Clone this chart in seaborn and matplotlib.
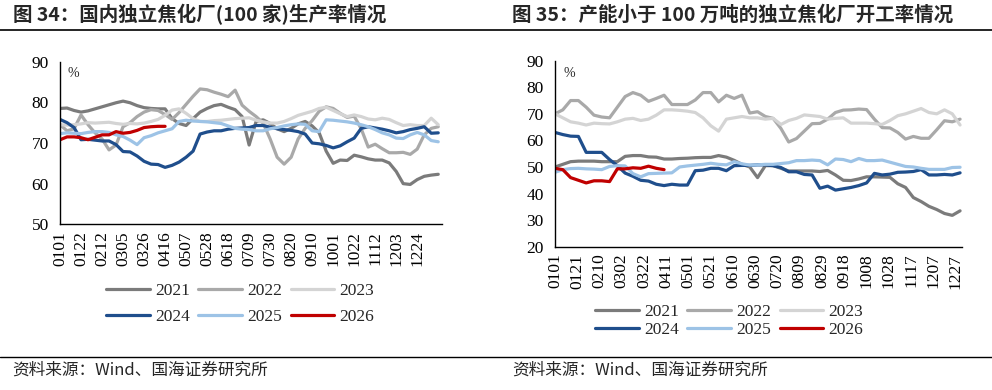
import matplotlib
matplotlib.use("Agg")

import numpy as np
import pandas as pd
import seaborn as sns
from matplotlib import pyplot as plt
from matplotlib.lines import Line2D

YEARS = ["2021", "2022", "2023", "2024", "2025", "2026"]
YEAR_COLORS = {
    "2021": "#7b7b7b",
    "2022": "#a9a9a9",
    "2023": "#d4d4d4",
    "2024": "#1f4e8c",
    "2025": "#9dc3e6",
    "2026": "#c00000",
}

# chart 34: weekly data, one point every 7 days
LEFT_TICK_LABELS = ["0101", "0122", "0212", "0305", "0326", "0416", "0507", "0528", "0618",
                    "0709", "0730", "0820", "0910", "1001", "1022", "1112", "1203", "1224", ""]
left_2021 = [78.5, 78.6, 78.0, 77.6, 77.9, 78.4, 78.9, 79.4, 79.9, 80.3,
             79.9, 79.2, 78.7, 78.5, 78.4, 78.4, 76.0, 74.8, 74.3, 76.0,
             77.6, 78.5, 79.2, 79.5, 78.8, 78.2, 76.5, 69.5, 75.3, 75.7,
             74.8, 73.5, 72.8, 73.6, 74.7, 75.3, 74.2, 72.5, 68.0, 65.0,
             65.8, 65.7, 67.0, 66.6, 66.1, 65.8, 65.8, 65.1, 63.0, 60.0,
             59.8, 61.0, 61.8, 62.1, 62.3]
left_2022 = [74.5, 73.0, 73.5, 76.9, 74.5, 72.5, 71.0, 68.3, 69.5, 74.0,
             75.0, 76.5, 77.6, 78.2, 78.0, 77.0, 75.8, 77.5, 79.5, 81.5,
             83.3, 83.1, 82.5, 82.0, 81.4, 83.0, 79.3, 77.8, 76.5, 74.9,
             71.0, 66.5, 64.8, 66.5, 71.0, 73.6, 75.5, 77.8, 78.9, 78.5,
             77.3, 76.3, 76.6, 73.5, 69.0, 69.7, 68.6, 67.6, 67.6, 67.7,
             67.2, 68.5, 72.0, 73.6, 74.0]
left_2023 = [74.5, 74.4, 74.5, 74.7, 75.0, 74.9, 75.0, 75.1, 74.8, 74.6,
             74.8, 74.7, 74.9, 75.3, 75.8, 76.8, 78.1, 78.4, 77.3, 76.0,
             75.3, 75.3, 75.5, 75.6, 75.8, 76.0, 76.1, 76.2, 75.6, 75.2,
             74.9, 74.9, 75.3, 76.0, 76.8, 77.3, 77.8, 78.5, 78.8, 78.0,
             77.2, 76.5, 76.9, 76.5, 75.9, 75.7, 76.1, 75.8, 75.0, 74.3,
             74.5, 74.3, 74.3, 76.1, 74.5]
left_2024 = [75.8, 75.0, 73.8, 70.8, 70.9, 70.7, 70.5, 70.5, 69.6, 67.9,
             67.8, 66.8, 65.5, 64.8, 64.7, 64.0, 64.5, 65.3, 66.5, 68.0,
             72.2, 72.7, 73.0, 73.0, 73.4, 73.6, 73.7, 73.8, 74.3, 74.3,
             73.9, 73.5, 73.3, 73.1, 72.8, 72.2, 70.0, 69.8, 69.4, 68.8,
             69.3, 70.3, 71.2, 73.6, 74.0, 73.7, 73.4, 73.0, 72.5, 72.8,
             73.3, 73.6, 74.0, 72.4, 72.5]
left_2025 = [72.3, 72.5, 72.4, 72.3, 72.6, 72.8, 72.8, 72.6, 72.0, 71.6,
             70.7, 69.6, 71.3, 71.8, 72.5, 73.0, 73.5, 75.3, 75.6, 75.4,
             75.3, 75.2, 75.0, 74.8, 74.2, 73.6, 73.4, 73.3, 73.0, 73.0,
             73.5, 73.8, 74.2, 74.5, 74.7, 74.6, 73.0, 72.8, 75.7, 75.6,
             75.4, 75.2, 74.9, 74.5, 74.0, 73.3, 72.5, 72.0, 71.2, 71.1,
             72.0, 72.6, 72.0, 70.6, 70.3]
left_2026 = [70.8, 71.5, 71.5, 71.3, 70.8, 71.4, 72.0, 72.0, 72.8, 72.4,
             72.6, 73.1, 73.8, 74.0, 74.1, 74.1]

# chart 35: weekly data on a 20-day date axis
RIGHT_TICK_LABELS = ["0101", "0121", "0210", "0302", "0322", "0411", "0501", "0521", "0610",
                     "0630", "0720", "0809", "0829", "0918", "1008", "1028", "1117", "1207", "1227"]
right_2021 = [50.0, 51.0, 52.0, 52.2, 52.2, 52.2, 52.0, 52.0, 52.0, 54.0,
              54.3, 54.3, 53.8, 53.7, 53.0, 53.0, 53.2, 53.3, 53.5, 53.6,
              53.6, 54.3, 53.7, 52.5, 51.0, 50.0, 46.0, 50.5, 50.5, 49.5,
              48.5, 48.5, 48.5, 48.5, 48.3, 48.7, 47.0, 45.0, 44.9, 45.5,
              46.3, 46.3, 46.2, 46.1, 43.7, 42.3, 38.5, 37.0, 35.2, 34.0,
              32.5, 31.8, 33.5]
right_2022 = [70.0, 71.5, 75.0, 75.0, 72.5, 69.5, 68.8, 68.5, 72.5, 76.5,
              78.0, 77.0, 74.7, 75.8, 77.0, 73.5, 73.5, 73.5, 75.2, 78.0,
              78.0, 74.5, 77.0, 75.8, 77.0, 70.3, 70.8, 69.0, 68.3, 64.5,
              59.4, 60.7, 63.5, 66.3, 66.4, 68.0, 70.5, 71.4, 71.5, 71.8,
              71.6, 68.0, 64.8, 64.7, 63.0, 60.5, 61.5, 60.8, 60.8, 64.0,
              67.4, 67.0, 68.0]
right_2023 = [70.0, 68.5, 67.0, 66.5, 65.8, 66.5, 66.3, 66.2, 67.0, 68.0,
              68.3, 67.5, 68.0, 69.5, 71.5, 71.5, 71.3, 71.0, 70.5, 68.5,
              65.5, 63.5, 68.0, 68.5, 69.0, 68.5, 68.5, 68.0, 68.3, 66.0,
              67.5, 68.3, 69.6, 69.3, 69.0, 68.0, 68.3, 68.5, 66.5, 66.5,
              66.5, 66.3, 66.0, 67.5, 69.3, 70.0, 71.0, 72.0, 70.5, 70.0,
              71.5, 70.0, 65.8]
right_2024 = [63.0, 62.2, 61.6, 61.5, 55.5, 55.5, 55.5, 52.8, 50.5, 47.7,
              46.5, 45.0, 44.7, 43.5, 43.0, 43.5, 43.2, 43.2, 48.6, 48.8,
              49.5, 49.5, 48.6, 50.5, 50.6, 50.6, 50.8, 50.8, 50.5, 49.8,
              48.2, 48.2, 47.2, 47.0, 42.0, 42.8, 41.3, 41.8, 42.3, 43.0,
              44.0, 47.6, 47.0, 47.3, 48.0, 48.1, 48.3, 49.0, 47.0, 47.0,
              47.2, 47.0, 47.8]
right_2025 = [48.0, 49.0, 49.4, 49.5, 49.3, 49.2, 49.0, 50.2, 50.5, 50.4,
              47.5, 46.3, 47.5, 47.6, 47.7, 47.8, 50.0, 50.4, 50.7, 51.0,
              51.4, 51.0, 50.8, 52.0, 51.2, 50.7, 50.8, 51.0, 51.0, 51.3,
              51.6, 52.4, 52.4, 52.6, 52.4, 50.8, 53.0, 52.8, 52.0, 53.2,
              52.4, 52.4, 52.6, 51.8, 51.0, 50.2, 50.0, 49.5, 49.1, 49.1,
              49.1, 49.8, 49.9]
right_2026 = [49.5, 49.0, 46.0, 45.0, 44.0, 44.8, 44.8, 44.5, 49.3, 49.3,
              49.7, 49.5, 50.3, 49.5, 49.0]


def long_frame(series):
    frames = []
    for year, values in zip(YEARS, series):
        frames.append(pd.DataFrame({"day": np.arange(len(values)) * 7, "value": values, "year": year}))
    return pd.concat(frames, ignore_index=True)


def draw_panel(ax, frame, tick_step, tick_labels, xmax, ylim, legend_anchor, row_gap):
    sns.lineplot(data=frame, x="day", y="value", hue="year", hue_order=YEARS,
                 palette=YEAR_COLORS, linewidth=2.3, estimator=None, sort=False,
                 legend=False, ax=ax)
    ax.set_xlim(0, xmax)
    ax.set_ylim(*ylim)
    ax.set_yticks(np.arange(ylim[0], ylim[1] + 1, 10))
    ax.set_xticks(np.arange(len(tick_labels)) * tick_step, labels=tick_labels, rotation=90)
    ax.set_xlabel("")
    ax.set_ylabel("")
    for side in ("top", "right"):
        ax.spines[side].set_visible(False)
    for side in ("left", "bottom"):
        ax.spines[side].set_linewidth(1.0)
        ax.spines[side].set_color("black")
    ax.tick_params(axis="both", direction="in", length=3.5, width=1.0, labelsize=12.5, colors="black")
    ax.tick_params(axis="y", pad=8)
    ax.tick_params(axis="x", pad=5)
    ax.text(0.02, 0.93, "%", transform=ax.transAxes, fontsize=10, va="center", ha="left")

    # legend is filled column by column, so reorder to read 2021 2022 2023 / 2024 2025 2026
    lines = ax.get_lines()[:6]
    order = [0, 3, 1, 4, 2, 5]
    ax.legend(handles=[lines[i] for i in order], labels=[YEARS[i] for i in order], ncol=3,
              frameon=False, loc="center", bbox_to_anchor=legend_anchor,
              bbox_transform=ax.figure.transFigure, fontsize=12.5, handlelength=2.5,
              handletextpad=0.3, columnspacing=0.5, labelspacing=row_gap)


sns.set_style("white")
plt.rcParams["font.family"] = ["Liberation Serif", "Noto Sans CJK SC"]

fig = plt.figure(figsize=(9.92, 3.9), dpi=100)
ax_left = fig.add_axes([0.0605, 0.4249, 0.3848, 0.4169])
ax_right = fig.add_axes([0.5595, 0.3674, 0.41, 0.477])

left_frame = long_frame([left_2021, left_2022, left_2023, left_2024, left_2025, left_2026])
right_frame = long_frame([right_2021, right_2022, right_2023, right_2024, right_2025, right_2026])

draw_panel(ax_left, left_frame, 21, LEFT_TICK_LABELS, 381.5, (50, 90), (0.242, 0.22), 0.55)
draw_panel(ax_right, right_frame, 20, RIGHT_TICK_LABELS, 365.5, (20, 90), (0.735, 0.177), 0.12)

title_font = ["Noto Sans CJK SC", "DejaVu Sans"]
fig.text(13 / 992, 1 - 15 / 390, "图 34：国内独立焦化厂(100 家)生产率情况",
         fontsize=14, fontweight="bold", family=title_font, va="center", ha="left")
fig.text(512 / 992, 1 - 15 / 390, "图 35：产能小于 100 万吨的独立焦化厂开工率情况",
         fontsize=14, fontweight="bold", family=title_font, va="center", ha="left")
fig.add_artist(Line2D([0, 1], [1 - 29.5 / 390] * 2, transform=fig.transFigure, color="black", lw=1.2))
fig.add_artist(Line2D([0, 1], [1 - 357 / 390] * 2, transform=fig.transFigure, color="black", lw=1.0))
fig.text(12 / 992, 1 - 370 / 390, "资料来源：Wind、国海证券研究所",
         fontsize=12, family=title_font, va="center", ha="left")
fig.text(512 / 992, 1 - 370 / 390, "资料来源：Wind、国海证券研究所",
         fontsize=12, family=title_font, va="center", ha="left")

fig.savefig("out.png", dpi=100)
plt.close(fig)
